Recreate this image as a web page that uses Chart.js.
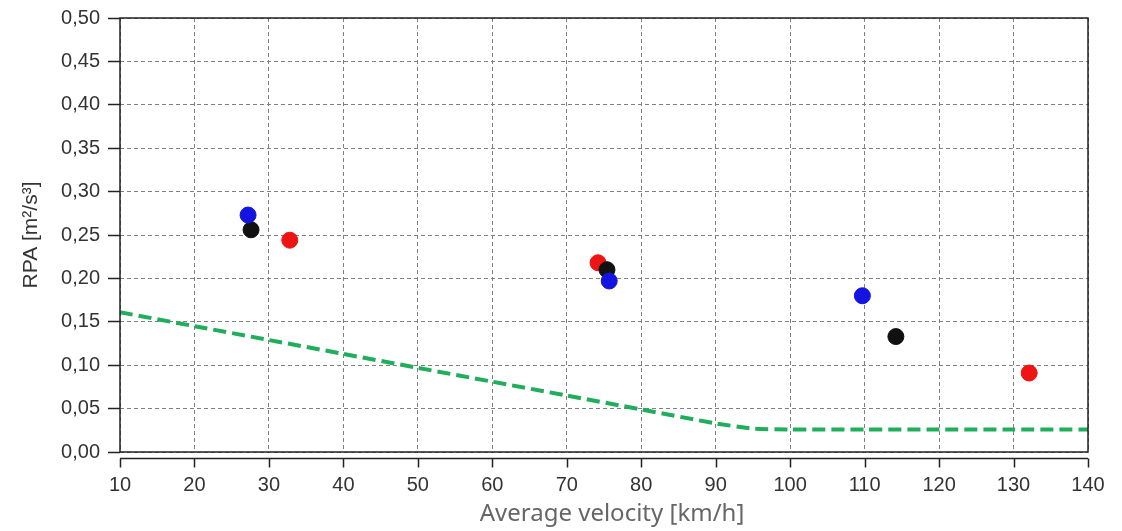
<!DOCTYPE html>
<html>
<head>
    <title>RPA vs average velocity</title>
    <script src="https://cdn.jsdelivr.net/npm/chart.js"></script>
    <style>
        body {
            margin: 0;
            background: #ffffff;
        }
        .wrap {
            width: 1122px;
            height: 531px;
        }
    </style>
</head>
<body>
    <div class="wrap">
        <canvas id="rpaChart" width="1122" height="531"></canvas>
    </div>

    <script>
        // measured runs, one colour per vehicle
        const blueVel = [27.2, 75.7, 109.7];
        const blueRpa = [0.273, 0.197, 0.180];
        const blackVel = [27.6, 75.4, 114.2];
        const blackRpa = [0.256, 0.210, 0.133];
        const redVel = [32.8, 74.2, 132.1];
        const redRpa = [0.244, 0.218, 0.091];

        // lower RPA boundary
        const limitVel = [10, 20, 30, 40, 50, 60, 70, 80, 90, 95, 100, 110, 120, 130, 140];
        const limitRpa = [0.161, 0.145, 0.129, 0.113, 0.097, 0.081, 0.065, 0.049, 0.033, 0.027, 0.026, 0.026, 0.026, 0.026, 0.026];

        const xTicks = [10, 20, 30, 40, 50, 60, 70, 80, 90, 100, 110, 120, 130, 140];
        const xTitle = 'Average velocity [km/h]';

        const pts = (xs, ys) => xs.map((x, i) => ({ x: x, y: ys[i] }));

        // box around the plot, a detached x axis line with downward ticks, and the x title
        const frame = {
            id: 'frame',
            afterDraw(chart) {
                const { ctx, chartArea: a, scales } = chart;
                ctx.save();
                ctx.strokeStyle = '#222';
                ctx.lineWidth = 1.5;
                ctx.strokeRect(a.left, a.top, a.right - a.left, a.bottom - a.top);
                const y0 = a.bottom + 6.5;
                ctx.beginPath();
                ctx.moveTo(a.left, y0);
                ctx.lineTo(a.right, y0);
                xTicks.forEach(v => {
                    const px = Math.round(scales.x.getPixelForValue(v)) + 0.5;
                    ctx.moveTo(px, y0);
                    ctx.lineTo(px, y0 + 9);
                });
                ctx.stroke();

                ctx.fillStyle = '#666';
                ctx.font = '24px "Noto Sans"';
                ctx.textAlign = 'center';
                ctx.textBaseline = 'middle';
                ctx.fillText(xTitle, (a.left + a.right) / 2 + 8, 514);
                ctx.restore();
            }
        };

        new Chart(document.getElementById('rpaChart'), {
            type: 'scatter',
            data: {
                datasets: [
                    {
                        data: pts(blueVel, blueRpa),
                        backgroundColor: '#1414e0',
                        borderColor: '#1414e0',
                        pointRadius: 8,
                        order: 1
                    },
                    {
                        data: pts(blackVel, blackRpa),
                        backgroundColor: '#111111',
                        borderColor: '#111111',
                        pointRadius: 8,
                        order: 2
                    },
                    {
                        data: pts(redVel, redRpa),
                        backgroundColor: '#ee1414',
                        borderColor: '#ee1414',
                        pointRadius: 8,
                        order: 3
                    },
                    {
                        type: 'line',
                        data: pts(limitVel, limitRpa),
                        borderColor: '#20ad5c',
                        borderWidth: 4,
                        borderDash: [13, 6],
                        pointRadius: 0,
                        tension: 0.2,
                        fill: false,
                        order: 4
                    }
                ]
            },
            options: {
                responsive: false,
                animation: false,
                layout: { padding: { left: 0, top: 18, right: 34, bottom: 0 } },
                plugins: {
                    legend: { display: false },
                    tooltip: { enabled: false }
                },
                scales: {
                    x: {
                        type: 'linear',
                        min: 10,
                        max: 140,
                        afterFit: s => {
                            s.height = 79;
                            s.paddingLeft = 0;
                            s.paddingRight = 0;
                        },
                        afterBuildTicks: s => { s.ticks = xTicks.map(v => ({ value: v })); },
                        grid: { color: '#808080', lineWidth: 1, drawTicks: false },
                        border: { display: false, dash: [4, 3] },
                        ticks: {
                            padding: 21,
                            color: '#333',
                            font: { family: 'Liberation Sans', size: 20 }
                        }
                    },
                    y: {
                        min: 0,
                        max: 0.5,
                        afterFit: s => {
                            s.width = 120;
                            s.paddingTop = 0;
                            s.paddingBottom = 0;
                        },
                        grid: {
                            color: '#808080',
                            lineWidth: 1,
                            drawTicks: true,
                            tickLength: 12,
                            tickColor: '#222',
                            tickWidth: 1.5
                        },
                        border: { display: false, dash: [4, 3] },
                        ticks: {
                            stepSize: 0.05,
                            padding: 8,
                            color: '#333',
                            font: { family: 'Liberation Sans', size: 20 },
                            callback: v => v.toFixed(2).replace('.', ',')
                        },
                        title: {
                            display: true,
                            text: 'RPA [m²/s³]',
                            color: '#333',
                            font: { family: 'Liberation Sans', size: 21 },
                            padding: { top: 19, bottom: 0 }
                        }
                    }
                }
            },
            plugins: [frame]
        });
    </script>
</body>
</html>
